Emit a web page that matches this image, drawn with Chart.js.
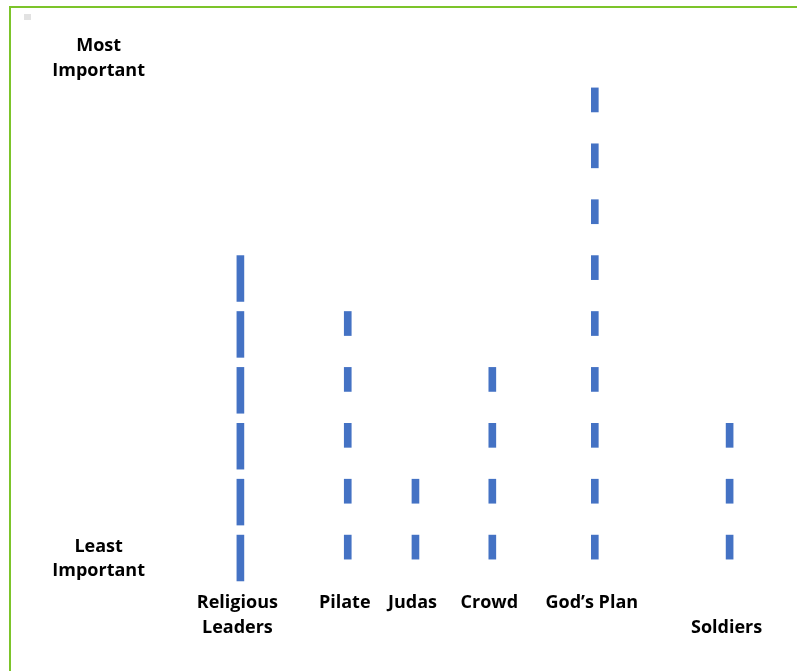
<!DOCTYPE html>
<html>
<head>
<meta charset="utf-8">
<script src="https://cdn.jsdelivr.net/npm/chart.js@4.4.1/dist/chart.umd.min.js"></script>
<style>
  body { margin: 0; background: #fff; }
  #wrap { position: relative; width: 797px; height: 671px; overflow: hidden; }
  #frame { position: absolute; left: 9px; top: 6px; width: 800px; height: 700px; border: 2px solid #7cc42a; }
  #dot { position: absolute; left: 24px; top: 14px; width: 7px; height: 6px; background: #e2e2e2; }
  #chart { position: absolute; left: 0; top: 0; }
</style>
</head>
<body>
<div id="wrap">
  <div id="frame"></div>
  <div id="dot"></div>
  <canvas id="chart" width="797" height="671"></canvas>
</div>
<script>
// categories along the bottom, and where each one sits on a 0-100 scale
const categories = [['Religious', 'Leaders'], 'Pilate', 'Judas', 'Crowd', 'God\u2019s Plan', ['', 'Soldiers']];
const positions = [9.9, 27.5, 38.6, 51.2, 68.0, 90.1];
// how many marks each category has
const counts = [6, 5, 2, 4, 9, 3];
// length of each mark, in steps of importance
const markLength = [0.82, 0.43, 0.43, 0.43, 0.43, 0.43];
// labels on the importance axis
const scaleLabels = [['Least', 'Important'], ['Most', 'Important']];
const scaleValues = [0.58, 9.53];

const labelFont = { family: "'Open Sans', sans-serif", weight: 'bold', size: 18, lineHeight: 1.35 };

// one floating bar per mark
const points = [];
counts.forEach((n, i) => {
    for (let k = 1; k <= n; k++) {
        points.push({ x: positions[i], y: [k - markLength[i], k] });
    }
});

new Chart(document.getElementById('chart'), {
    type: 'bar',
    data: {
        datasets: [{
            data: points,
            backgroundColor: '#4472C4',
            borderWidth: 0,
            barThickness: 7
        }]
    },
    options: {
        responsive: false,
        animation: false,
        layout: { padding: { top: 32, right: 7, bottom: 0, left: 0 } },
        plugins: {
            legend: { display: false },
            tooltip: { enabled: false }
        },
        scales: {
            x: {
                type: 'linear',
                min: 0,
                max: 100,
                offset: false,
                afterBuildTicks: scale => { scale.ticks = positions.map(v => ({ value: v })); },
                afterFit: scale => {
                    scale.height = 80;
                    scale.paddingLeft = 0;
                    scale.paddingRight = 0;
                },
                ticks: {
                    callback: (value, index) => categories[index],
                    autoSkip: false,
                    maxRotation: 0,
                    padding: 0,
                    labelOffset: -3,
                    color: '#000',
                    font: labelFont
                },
                grid: { display: false, drawTicks: false, offset: false },
                border: { display: false }
            },
            y: {
                type: 'linear',
                min: 0,
                max: 10,
                afterBuildTicks: scale => { scale.ticks = scaleValues.map(v => ({ value: v })); },
                afterFit: scale => {
                    scale.width = 180;
                    scale.paddingTop = 0;
                    scale.paddingBottom = 0;
                },
                ticks: {
                    callback: (value, index) => scaleLabels[index],
                    crossAlign: 'center',
                    padding: 35,
                    color: '#000',
                    font: labelFont
                },
                grid: { display: false, drawTicks: false },
                border: { display: false }
            }
        }
    }
});
</script>
</body>
</html>
